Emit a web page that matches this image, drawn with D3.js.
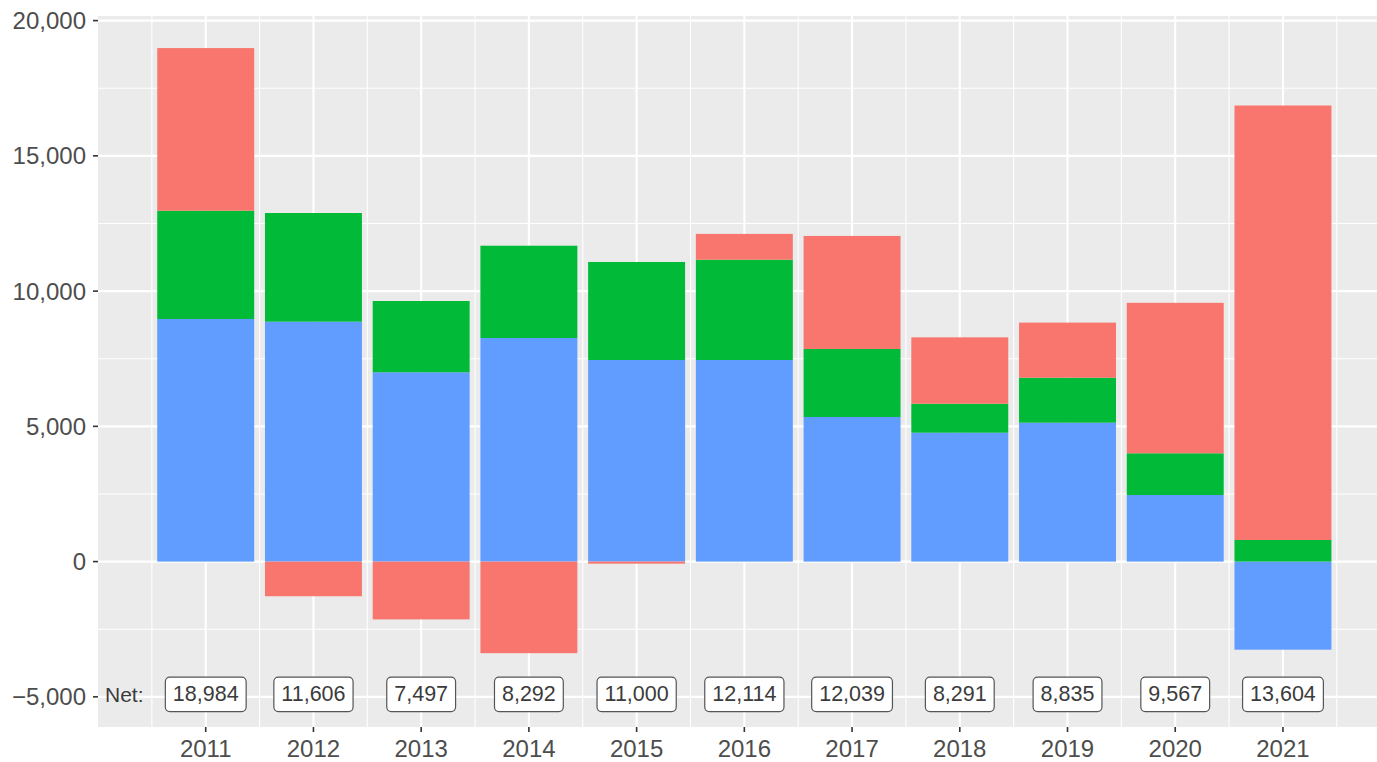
<!DOCTYPE html>
<html>
<head>
<meta charset="utf-8">
<script src="https://cdn.jsdelivr.net/npm/d3@7"></script>
<style>
  html, body { margin: 0; padding: 0; background: #ffffff; }
  svg { display: block; }
</style>
</head>
<body>
<svg id="chart" width="1377" height="762"></svg>
<script>
// ---- data ----
const years = [2011, 2012, 2013, 2014, 2015, 2016, 2017, 2018, 2019, 2020, 2021];
const seriesBlue  = [8969, 8869, 6998, 8266, 7453, 7453, 5346, 4765, 5135, 2462, -3257];
const seriesGreen = [4003, 4018, 2636, 3412, 3623, 3708, 2514, 1072, 1663, 1542, 799];
const seriesRed   = [6012, -1281, -2137, -3386, -76, 953, 4179, 2454, 2037, 5563, 16062];
const netValues   = [18984, 11606, 7497, 8292, 11000, 12114, 12039, 8291, 8835, 9567, 13604];
const yTicks = [-5000, 0, 5000, 10000, 15000, 20000];
const yMinor = [-2500, 2500, 7500, 12500, 17500];
const netLabelY = -5000;
const netTitle = "Net:";

const keys = ["blue", "green", "red"];
const colors = { blue: "#619CFF", green: "#00BA38", red: "#F8766D" };

const rows = years.map((yr, i) => ({
  year: yr, blue: seriesBlue[i], green: seriesGreen[i], red: seriesRed[i], net: netValues[i]
}));

// ---- layout ----
const svg = d3.select("#chart");
const panel = { left: 98, right: 1377, top: 16, bottom: 727 };

const x = d3.scaleLinear().domain([2010, 2021.873]).range([panel.left, panel.right]);
const y = d3.scaleLinear().domain([-6115, 20170]).range([panel.bottom, panel.top]);

const fontFam = "'Liberation Sans', Arial, Helvetica, sans-serif";
const textCol = "#4D4D4D";

// panel background
svg.append("rect")
  .attr("x", panel.left).attr("y", panel.top)
  .attr("width", panel.right - panel.left).attr("height", panel.bottom - panel.top)
  .attr("fill", "#EBEBEB");

const grid = svg.append("g");
// minor grid
grid.selectAll("line.ymin").data(yMinor).join("line")
  .attr("x1", panel.left).attr("x2", panel.right)
  .attr("y1", d => y(d)).attr("y2", d => y(d))
  .attr("stroke", "#fff").attr("stroke-width", 1.1);
const xMinor = years.map(d => d - 0.5).concat([years[years.length - 1] + 0.5]);
grid.selectAll("line.xmin").data(xMinor).join("line")
  .attr("y1", panel.top).attr("y2", panel.bottom)
  .attr("x1", d => x(d)).attr("x2", d => x(d))
  .attr("stroke", "#fff").attr("stroke-width", 1.1);
// major grid
grid.selectAll("line.ymaj").data(yTicks).join("line")
  .attr("x1", panel.left).attr("x2", panel.right)
  .attr("y1", d => y(d)).attr("y2", d => y(d))
  .attr("stroke", "#fff").attr("stroke-width", 2.1);
grid.selectAll("line.xmaj").data(years).join("line")
  .attr("y1", panel.top).attr("y2", panel.bottom)
  .attr("x1", d => x(d)).attr("x2", d => x(d))
  .attr("stroke", "#fff").attr("stroke-width", 2.1);

// ---- bars ----
const stack = d3.stack().keys(keys).offset(d3.stackOffsetDiverging);
const stacked = stack(rows);
const halfW = 0.45;
svg.append("g").selectAll("g").data(stacked).join("g")
  .attr("fill", d => colors[d.key])
  .selectAll("rect").data(d => d).join("rect")
  .attr("x", d => x(d.data.year - halfW))
  .attr("width", d => x(d.data.year + halfW) - x(d.data.year - halfW))
  .attr("y", d => y(Math.max(d[0], d[1])))
  .attr("height", d => Math.abs(y(d[0]) - y(d[1])));

// ---- net labels ----
const fmt = d3.format(",");
const labG = svg.append("g");
const labelFont = 21.5;
rows.forEach(r => {
  const g = labG.append("g");
  const t = g.append("text")
    .attr("x", x(r.year)).attr("y", y(netLabelY) - 2.5)
    .attr("text-anchor", "middle").attr("dominant-baseline", "central")
    .attr("font-family", fontFam).attr("font-size", labelFont)
    .attr("fill", "#3b3b3b")
    .text(fmt(r.net));
  const bb = t.node().getBBox();
  const padX = 7.5, h = 34.4;
  g.insert("rect", "text")
    .attr("x", bb.x - padX).attr("width", bb.width + 2 * padX)
    .attr("y", y(netLabelY) - 2.5 - h / 2).attr("height", h)
    .attr("rx", 4.5).attr("ry", 4.5)
    .attr("fill", "#fff").attr("stroke", "#555").attr("stroke-width", 1.2);
});
labG.append("text")
  .attr("x", x(2010.065)).attr("y", y(netLabelY) - 2.5)
  .attr("text-anchor", "start").attr("dominant-baseline", "central")
  .attr("font-family", fontFam).attr("font-size", 21)
  .attr("fill", "#3b3b3b")
  .text(netTitle);

// ---- axes ----
const yAxis = svg.append("g");
yTicks.forEach(v => {
  yAxis.append("line")
    .attr("x1", panel.left - 5).attr("x2", panel.left)
    .attr("y1", y(v)).attr("y2", y(v))
    .attr("stroke", "#333").attr("stroke-width", 1.6);
  yAxis.append("text")
    .attr("x", panel.left - 12).attr("y", y(v))
    .attr("text-anchor", "end").attr("dominant-baseline", "central")
    .attr("font-family", fontFam).attr("font-size", 24)
    .attr("fill", textCol)
    .text(fmt(v));
});
const xAxis = svg.append("g");
years.forEach(v => {
  xAxis.append("line")
    .attr("x1", x(v)).attr("x2", x(v))
    .attr("y1", panel.bottom).attr("y2", panel.bottom + 5)
    .attr("stroke", "#333").attr("stroke-width", 1.6);
  xAxis.append("text")
    .attr("x", x(v)).attr("y", panel.bottom + 30)
    .attr("text-anchor", "middle")
    .attr("font-family", fontFam).attr("font-size", 24)
    .attr("fill", textCol)
    .text(String(v));
});
</script>
</body>
</html>
